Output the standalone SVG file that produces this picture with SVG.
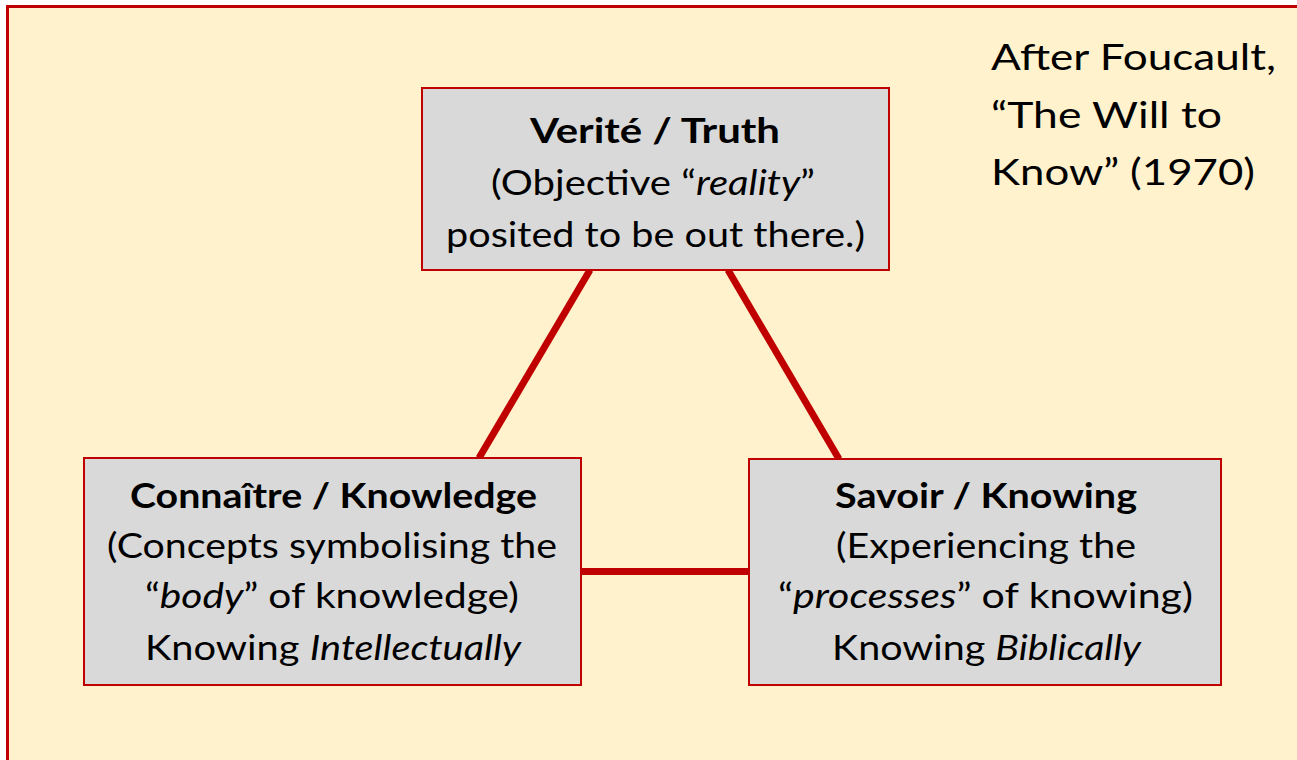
<svg xmlns="http://www.w3.org/2000/svg" width="1297" height="760" viewBox="0 0 1297 760">
<style>
.bx{fill:#D9D9D9;stroke:#C00000;stroke-width:2}
.t{font-family:Lato,"Liberation Sans",sans-serif;font-size:35px;fill:#000;text-anchor:middle}
.b{font-weight:bold}
.i{font-style:italic}
.n{font-family:Lato,"Liberation Sans",sans-serif;font-size:37px;fill:#000}
.c{stroke:#C00000;stroke-width:7;fill:none}
</style>
<rect x="0" y="0" width="1297" height="760" fill="#FFFFFF"/>
<rect id="frame" x="7.5" y="6.5" width="1300" height="770" fill="#FFF2CC" stroke="#C00000" stroke-width="3"/>
<g id="connectors">
<line class="c" x1="590" y1="270" x2="479" y2="458"/>
<line class="c" x1="728" y1="270" x2="839" y2="459"/>
<line class="c" x1="581" y1="571.5" x2="749" y2="571.5"/>
</g>
<g id="truth">
<rect class="bx" x="422" y="88" width="467" height="182"/>
<text class="t b" x="655" y="143" textLength="250" lengthAdjust="spacingAndGlyphs">Verité / Truth</text>
<text class="t" x="653" y="195" textLength="324" lengthAdjust="spacingAndGlyphs">(Objective “<tspan class="i">reality</tspan>”</text>
<text class="t" x="655.5" y="247" textLength="419" lengthAdjust="spacingAndGlyphs">posited to be out there.)</text>
</g>
<g id="knowledge">
<rect class="bx" x="84" y="458" width="497" height="227"/>
<text class="t b" x="333.5" y="508" textLength="407" lengthAdjust="spacingAndGlyphs">Connaître / Knowledge</text>
<text class="t" x="332" y="558" textLength="450" lengthAdjust="spacingAndGlyphs">(Concepts symbolising the</text>
<text class="t" x="332" y="608" textLength="374" lengthAdjust="spacingAndGlyphs">“<tspan class="i">body</tspan>” of knowledge)</text>
<text class="t" x="333" y="660" textLength="376" lengthAdjust="spacingAndGlyphs">Knowing <tspan class="i">Intellectually</tspan></text>
</g>
<g id="knowing">
<rect class="bx" x="749" y="459" width="472" height="226"/>
<text class="t b" x="986" y="508" textLength="302" lengthAdjust="spacingAndGlyphs">Savoir / Knowing</text>
<text class="t" x="986" y="558" textLength="300" lengthAdjust="spacingAndGlyphs">(Experiencing the</text>
<text class="t" x="985.5" y="608" textLength="415" lengthAdjust="spacingAndGlyphs">“<tspan class="i">processes</tspan>” of knowing)</text>
<text class="t" x="986.5" y="660" textLength="309" lengthAdjust="spacingAndGlyphs">Knowing <tspan class="i">Biblically</tspan></text>
</g>
<g id="note">
<text class="n" x="991" y="70" textLength="285" lengthAdjust="spacingAndGlyphs">After Foucault,</text>
<text class="n" x="991" y="128" textLength="231" lengthAdjust="spacingAndGlyphs">“The Will to</text>
<text class="n" x="991" y="185" textLength="264" lengthAdjust="spacingAndGlyphs">Know” (1970)</text>
</g>
</svg>
